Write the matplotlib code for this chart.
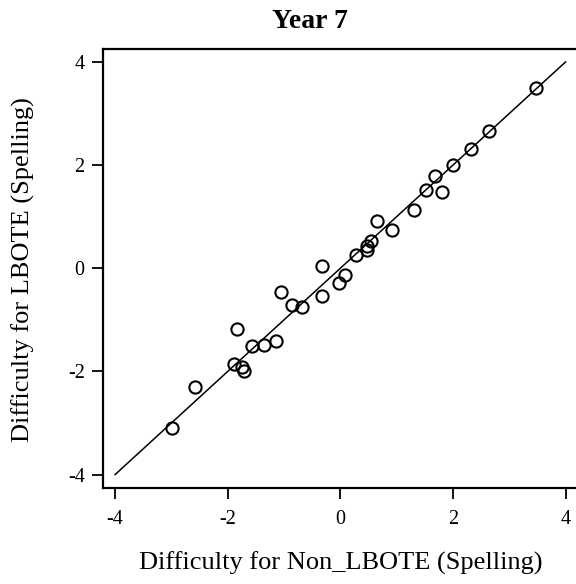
import numpy as np
import matplotlib
matplotlib.use("Agg")
import matplotlib.pyplot as plt

plt.rcParams['font.family'] = ['Liberation Serif', 'DejaVu Serif']
plt.rcParams['axes.unicode_minus'] = False

# item difficulties
non_lbote = [3.47, 2.64, 2.32, 2.00, 1.68, 1.52, 1.81, 1.31, 0.65, 0.91,
             0.54, 0.47, 0.48, 0.28, 0.08, -0.02, -0.32, -1.06, -0.32, -0.85,
             -0.68, -1.84, -1.57, -1.35, -1.14, -1.89, -1.74, -1.71, -2.58, -2.99]
lbote = [3.49, 2.67, 2.31, 2.01, 1.79, 1.52, 1.48, 1.13, 0.92, 0.74,
         0.52, 0.43, 0.35, 0.25, -0.13, -0.28, 0.05, -0.46, -0.54, -0.71,
         -0.76, -1.18, -1.51, -1.49, -1.42, -1.85, -1.92, -1.99, -2.31, -3.09]
ref_line = [-4, 4]
ticks = [-4, -2, 0, 2, 4]

fig = plt.figure(figsize=(5.76, 5.84), dpi=100)
# right edge of the box falls just outside the picture, as in the original
ax = fig.add_axes([102.7/576, 96/584, 475.3/576, 439/584])

ax.plot(ref_line, ref_line, color='black', lw=1.1)
ax.plot(non_lbote, lbote, 'o', mfc='none', mec='black', ms=8.8, mew=1.5)

ax.set_xlim(-4.22, 4.22)
ax.set_ylim(-4.26, 4.25)
ax.set_xticks(ticks)
ax.set_yticks(ticks)
ax.tick_params(direction='out', length=8, width=1.3, labelsize=14.5)
ax.tick_params(axis='x', pad=8)
ax.tick_params(axis='y', pad=5)
for s in ax.spines.values():
    s.set_linewidth(1.6)

# labels and title placed in figure coords
fig.text((102.7 + 578) / 2 / 576, 1 - 570/584, "Difficulty for Non_LBOTE (Spelling)",
         ha='center', va='baseline', fontsize=19)
fig.text(23/576, 1 - 270/584, "Difficulty for LBOTE (Spelling)", rotation=90,
         ha='center', va='center', fontsize=19)
fig.text(310/576, 1 - 28/584, "Year 7", ha='center', va='baseline',
         fontsize=20, fontweight='bold')

fig.savefig("out.png", dpi=100)
